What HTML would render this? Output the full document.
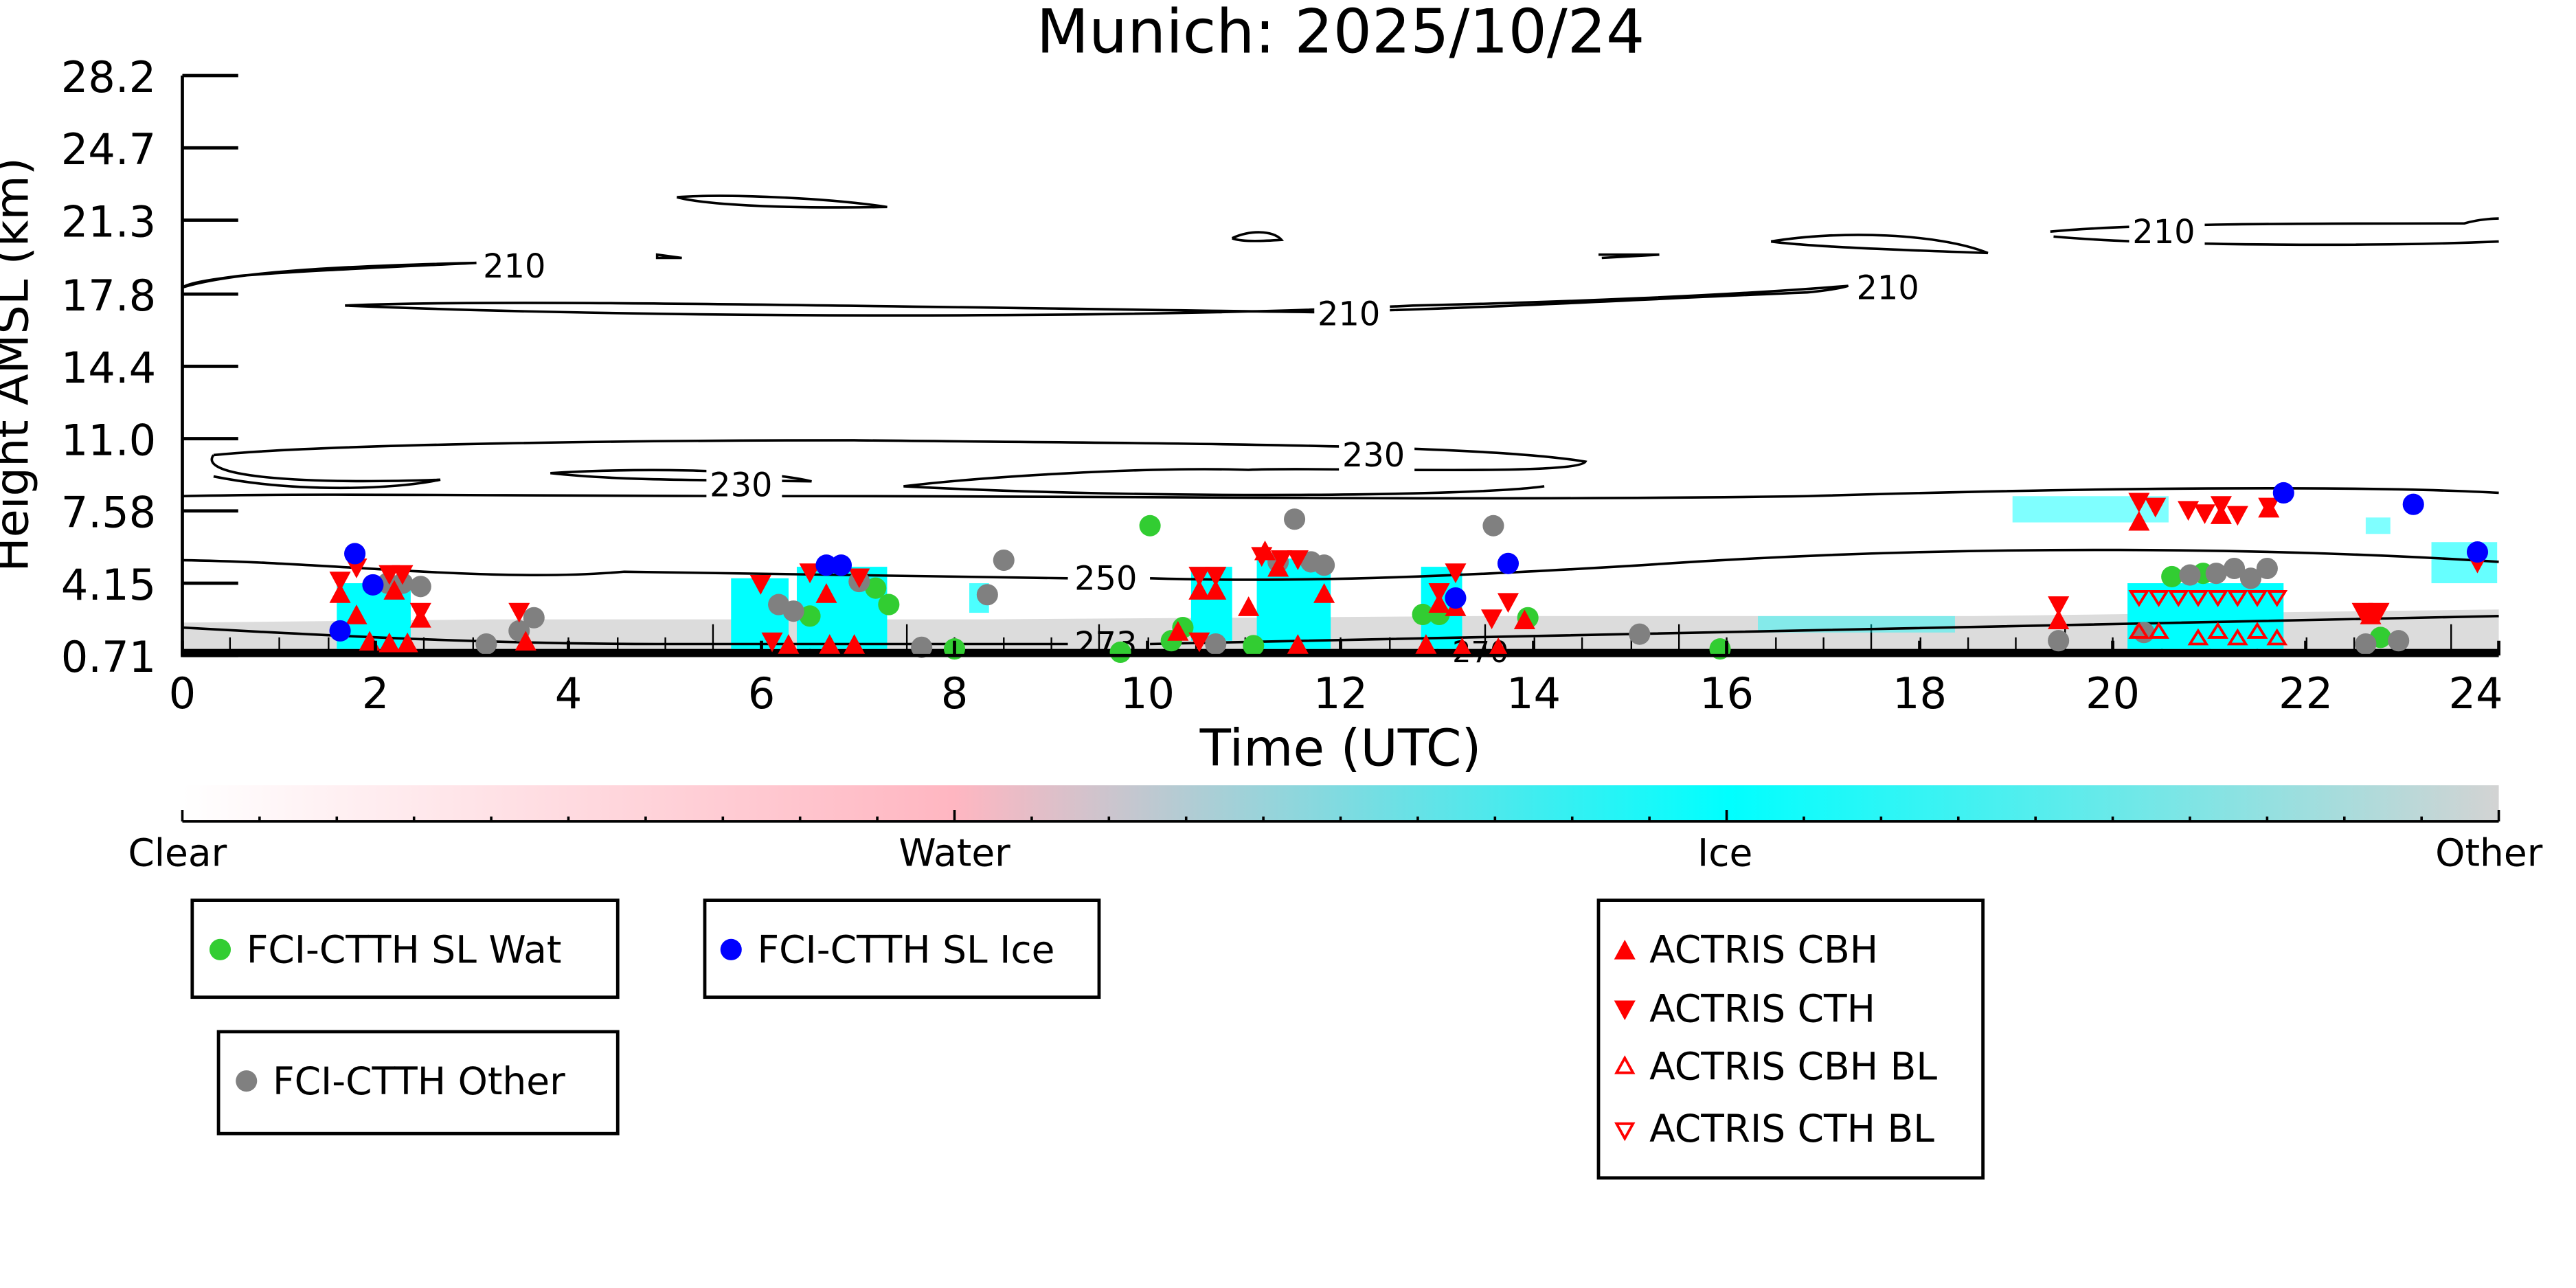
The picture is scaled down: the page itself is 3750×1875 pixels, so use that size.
<!DOCTYPE html>
<html><head><meta charset="utf-8"><style>
html,body{margin:0;padding:0;background:#fff;width:3750px;height:1875px;overflow:hidden}
svg{display:block}
text{font-family:"DejaVu Sans","Liberation Sans",sans-serif;fill:#000}
</style></head><body>
<svg width="3750" height="1875" viewBox="0 0 1568 784" preserveAspectRatio="none" xmlns="http://www.w3.org/2000/svg">
<defs>
<linearGradient id="cb" x1="0" x2="1" y1="0" y2="0">
<stop offset="0" stop-color="#ffffff"/>
<stop offset="0.333" stop-color="#ffb6c1"/>
<stop offset="0.667" stop-color="#00ffff"/>
<stop offset="1" stop-color="#d3d3d3"/>
</linearGradient>
<g id="up"><polygon points="0,-7 6.5,5 -6.5,5" fill="red"/></g>
<g id="dn"><polygon points="0,7 6.5,-5 -6.5,-5" fill="red"/></g>
</defs>
<text x="816" y="32" font-size="37" text-anchor="middle">Munich: 2025/10/24</text>

<path d="M111,379 L300,377 L600,377 L900,375 L1200,375 L1521,371 L1521,399 L111,399 Z" fill="#dcdcdc"/>
<rect x="111" y="395" width="1410" height="4" fill="#000"/>
<g stroke="#000" stroke-width="1">
<path d="M140,388V399M170,388V399M200,388V399M229,388V399M258,388V399M288,388V399M317,380V399M346,388V399M376,388V399M405,388V399M434,380V399M464,388V399M493,388V399M523,388V399M552,380V399M581,388V399M611,388V399M640,388V399M669,380V399M699,388V399M728,388V399M758,388V399M787,380V399M816,388V399M846,388V399M875,388V399M904,380V399M934,388V399M963,388V399M993,388V399M1022,380V399M1051,388V399M1081,388V399M1110,388V399M1139,380V399M1169,388V399M1198,388V399M1227,388V399M1257,380V399M1286,388V399M1316,388V399M1345,388V399M1374,380V399M1404,388V399M1433,388V399M1462,388V399M1492,380V399"/>
</g>
<g fill="#00ffff">
<rect x="205" y="355" width="45" height="40"/>
<rect x="445" y="352" width="35" height="43"/>
<rect x="485" y="345" width="55" height="50"/>
<rect x="590" y="355" width="12" height="18" opacity="0.7"/>
<rect x="725" y="345" width="25" height="45"/>
<rect x="765" y="340" width="45" height="55"/>
<rect x="865" y="345" width="25" height="50"/>
<rect x="1225" y="302" width="95" height="16" opacity="0.5"/>
<rect x="1295" y="355" width="95" height="40"/>
<rect x="1440" y="315" width="15" height="10" opacity="0.5"/>
<rect x="1480" y="330" width="40" height="25" opacity="0.6"/>
<rect x="1070" y="375" width="120" height="10" opacity="0.4"/>
</g>

<g fill="none" stroke="#000" stroke-width="1.5">
<path d="M111,341 C200,342 300,355 380,348 L650,352 M700,352 C800,355 900,350 1000,344 C1200,330 1400,334 1521,342"/>
<path d="M111,382 C200,387 300,392 400,392 L650,392 M700,392 C900,388 1200,380 1521,375"/>
<path d="M111,302 C200,300 300,302 500,302 C700,302 900,305 1100,302 C1300,296 1450,296 1521,300"/>
<path d="M130,277 C200,270 400,268 520,268 C700,270 900,270 965,281 C960,290 800,284 760,286 C700,284 600,290 550,296 C700,304 900,302 940,296 M130,277 C120,290 180,295 268,292 C240,298 180,300 130,290"/>
<path d="M335,288 C380,285 460,285 494,293 C440,292 380,293 335,288"/>
<path d="M210,186 C300,182 500,186 800,190 C900,188 1000,182 1100,178 C1120,176 1125,174 1125,174 C1050,180 950,184 860,186 C700,194 400,194 210,186"/>
<path d="M111,175 C140,166 200,162 290,160 C250,162 180,165 145,168 C130,170 115,172 111,175"/>
<path d="M412,120 C440,118 500,120 540,126 C480,127 430,125 412,120"/>
<path d="M400,155 L415,157 L400,157Z"/>
<path d="M750,145 C760,140 775,140 780,146 C765,147 755,147 750,145"/>
<path d="M973,155 L1010,155 L975,157"/>
<path d="M1078,147 C1120,140 1180,142 1210,154 C1150,152 1100,150 1078,147"/>
<path d="M1248,141 C1300,136 1400,136 1500,136 C1510,133 1521,133 1521,133 M1250,144 C1320,150 1450,150 1521,147"/>
</g>
<g font-size="20">
<rect x="292" y="150" width="46" height="22" fill="#fff"/><text x="294" y="169">210</text>
<rect x="800" y="180" width="46" height="22" fill="#fff"/><text x="802" y="198">210</text>
<rect x="1128" y="164" width="46" height="22" fill="#fff"/><text x="1130" y="182">210</text>
<rect x="1296" y="130" width="46" height="22" fill="#fff"/><text x="1298" y="148">210</text>
<rect x="815" y="266" width="46" height="22" fill="#fff"/><text x="817" y="284">230</text>
<rect x="430" y="284" width="46" height="22" fill="#fff"/><text x="432" y="302">230</text>
<rect x="652" y="341" width="46" height="22" fill="#fff"/><text x="654" y="359">250</text>
<text x="654" y="399">273</text>
<text x="884" y="403" font-size="18">270</text>
</g>

<g fill="#32cd32">
<circle cx="700" cy="320" r="6.5"/><circle cx="493" cy="375" r="6.5"/><circle cx="533" cy="358" r="6.5"/><circle cx="541" cy="368" r="6.5"/><circle cx="581" cy="395" r="6.5"/><circle cx="720" cy="382" r="6.5"/><circle cx="713" cy="390" r="6.5"/><circle cx="866" cy="374" r="6.5"/><circle cx="876" cy="374" r="6.5"/><circle cx="930" cy="376" r="6.5"/><circle cx="1047" cy="395" r="6.5"/><circle cx="1322" cy="351" r="6.5"/><circle cx="1341" cy="349" r="6.5"/><circle cx="1449" cy="388" r="6.5"/><circle cx="763" cy="393" r="6.5"/><circle cx="682" cy="397" r="6.5"/>
</g>
<g fill="#808080">
<circle cx="788" cy="316" r="6.5"/><circle cx="909" cy="320" r="6.5"/><circle cx="611" cy="341" r="6.5"/><circle cx="601" cy="362" r="6.5"/><circle cx="523" cy="354" r="6.5"/><circle cx="474" cy="368" r="6.5"/><circle cx="483" cy="372" r="6.5"/><circle cx="236" cy="355" r="6.5"/><circle cx="245" cy="355" r="6.5"/><circle cx="256" cy="357" r="6.5"/><circle cx="325" cy="376" r="6.5"/><circle cx="316" cy="384" r="6.5"/><circle cx="296" cy="392" r="6.5"/><circle cx="778" cy="342" r="6.5"/><circle cx="798" cy="342" r="6.5"/><circle cx="806" cy="344" r="6.5"/><circle cx="998" cy="386" r="6.5"/><circle cx="1333" cy="350" r="6.5"/><circle cx="1349" cy="349" r="6.5"/><circle cx="1360" cy="346" r="6.5"/><circle cx="1370" cy="352" r="6.5"/><circle cx="1380" cy="346" r="6.5"/><circle cx="1305" cy="385" r="6.5"/><circle cx="1440" cy="392" r="6.5"/><circle cx="1460" cy="390" r="6.5"/><circle cx="561" cy="394" r="6.5"/><circle cx="740" cy="392" r="6.5"/><circle cx="1253" cy="390" r="6.5"/>
</g>
<g>
<use href="#dn" x="207" y="353"/><use href="#up" x="207" y="362"/><use href="#dn" x="217" y="345"/><use href="#up" x="217" y="375"/><use href="#dn" x="237" y="349"/><use href="#dn" x="245" y="349"/><use href="#up" x="240" y="360"/><use href="#up" x="256" y="377"/><use href="#dn" x="256" y="372"/><use href="#up" x="225" y="391"/><use href="#up" x="237" y="392"/><use href="#up" x="248" y="392"/><use href="#dn" x="316" y="372"/><use href="#up" x="320" y="391"/>
<use href="#dn" x="463" y="355"/><use href="#dn" x="493" y="348"/><use href="#dn" x="523" y="351"/><use href="#up" x="503" y="362"/><use href="#up" x="480" y="393"/><use href="#up" x="505" y="393"/><use href="#up" x="520" y="393"/><use href="#dn" x="470" y="390"/>
<use href="#dn" x="730" y="350"/><use href="#dn" x="740" y="350"/><use href="#up" x="730" y="360"/><use href="#up" x="740" y="360"/><use href="#dn" x="768" y="338"/><use href="#dn" x="780" y="340"/><use href="#dn" x="790" y="340"/><use href="#up" x="770" y="336"/><use href="#up" x="778" y="346"/><use href="#up" x="806" y="362"/><use href="#up" x="760" y="370"/><use href="#up" x="717" y="385"/><use href="#dn" x="730" y="390"/><use href="#up" x="790" y="393"/>
<use href="#dn" x="876" y="360"/><use href="#up" x="876" y="368"/><use href="#dn" x="886" y="348"/><use href="#up" x="886" y="370"/><use href="#dn" x="918" y="366"/><use href="#dn" x="908" y="376"/><use href="#up" x="928" y="378"/><use href="#up" x="868" y="393"/><use href="#up" x="890" y="395"/><use href="#up" x="912" y="395"/>
<use href="#dn" x="1302" y="305"/><use href="#up" x="1302" y="318"/><use href="#dn" x="1312" y="308"/><use href="#dn" x="1332" y="310"/><use href="#dn" x="1342" y="312"/><use href="#dn" x="1352" y="307"/><use href="#up" x="1352" y="314"/><use href="#dn" x="1362" y="313"/><use href="#dn" x="1381" y="308"/><use href="#up" x="1381" y="310"/>
<use href="#dn" x="1253" y="368"/><use href="#up" x="1253" y="378"/><use href="#dn" x="1438" y="372"/><use href="#dn" x="1448" y="372"/><use href="#up" x="1443" y="375"/><use href="#dn" x="1508" y="342"/>
</g>
<g fill="none" stroke="red" stroke-width="1.6">
<path d="M1297,360l5,8l5,-8zM1309,360l5,8l5,-8zM1321,360l5,8l5,-8zM1333,360l5,8l5,-8zM1345,360l5,8l5,-8zM1357,360l5,8l5,-8zM1369,360l5,8l5,-8zM1381,360l5,8l5,-8z"/>
<path d="M1297,388l5,-8l5,8zM1309,388l5,-8l5,8zM1333,392l5,-8l5,8zM1345,388l5,-8l5,8zM1357,392l5,-8l5,8zM1369,388l5,-8l5,8zM1381,392l5,-8l5,8z"/>
</g>
<g fill="#0000ff">
<circle cx="216" cy="337" r="6.5"/><circle cx="207" cy="384" r="6.5"/><circle cx="227" cy="356" r="6.5"/><circle cx="503" cy="344" r="6.5"/><circle cx="512" cy="344" r="6.5"/><circle cx="886" cy="364" r="6.5"/><circle cx="918" cy="343" r="6.5"/><circle cx="1390" cy="300" r="6.5"/><circle cx="1469" cy="307" r="6.5"/><circle cx="1508" cy="336" r="6.5"/>
</g>

<g stroke="#000" stroke-width="2" fill="none">
<path d="M111,46V399H1521"/>
<path d="M111,46H145M111,90H145M111,134H145M111,179H145M111,223H145M111,267H145M111,311H145M111,355H145M111,399H145"/>
<path d="M111,399V390M228.5,399V390M346,399V390M463.5,399V390M581,399V390M698.5,399V390M816,399V390M933.5,399V390M1051,399V390M1168.5,399V390M1286,399V390M1403.5,399V390M1521,399V390"/>
</g>
<g font-size="26" text-anchor="end">
<text x="95" y="56">28.2</text><text x="95" y="100">24.7</text><text x="95" y="144">21.3</text><text x="95" y="189">17.8</text><text x="95" y="233">14.4</text><text x="95" y="277">11.0</text><text x="95" y="321">7.58</text><text x="95" y="365">4.15</text><text x="95" y="409">0.71</text>
</g>
<g font-size="26" text-anchor="middle">
<text x="111" y="431">0</text><text x="228.5" y="431">2</text><text x="346" y="431">4</text><text x="463.5" y="431">6</text><text x="581" y="431">8</text><text x="698.5" y="431">10</text><text x="816" y="431">12</text><text x="933.5" y="431">14</text><text x="1051" y="431">16</text><text x="1168.5" y="431">18</text><text x="1286" y="431">20</text><text x="1403.5" y="431">22</text><text x="1507" y="431">24</text>
</g>
<text x="816" y="466" font-size="31" text-anchor="middle">Time (UTC)</text>
<text transform="translate(17,222) rotate(-90)" font-size="28" text-anchor="middle">Height AMSL (km)</text>

<rect x="111" y="478" width="1410" height="22" fill="url(#cb)"/>
<g stroke="#000" stroke-width="1.5">
<path d="M111,500H1521M111,493V500M1521,493V500"/>
<path d="M158,497V500M205,497V500M252,497V500M299,497V500M346,497V500M393,497V500M440,497V500M487,497V500M534,497V500M581,493V500M628,497V500M675,497V500M722,497V500M769,497V500M816,497V500M863,497V500M910,497V500M957,497V500M1004,497V500M1051,493V500M1098,497V500M1145,497V500M1192,497V500M1239,497V500M1286,497V500M1333,497V500M1380,497V500M1427,497V500M1474,497V500"/>
</g>
<g font-size="23" text-anchor="middle">
<text x="108" y="527">Clear</text><text x="581" y="527">Water</text><text x="1050" y="527">Ice</text><text x="1515" y="527">Other</text>
</g>

<g stroke="#000" stroke-width="2" fill="#fff">
<rect x="117" y="548" width="259" height="59"/>
<rect x="133" y="628" width="243" height="62"/>
<rect x="429" y="548" width="240" height="59"/>
<rect x="973" y="548" width="234" height="169"/>
</g>
<g font-size="23">
<circle cx="134" cy="578" r="6.5" fill="#32cd32"/><text x="150" y="586">FCI-CTTH SL Wat</text>
<circle cx="150" cy="658" r="6.5" fill="#808080"/><text x="166" y="666">FCI-CTTH Other</text>
<circle cx="445" cy="578" r="6.5" fill="#0000ff"/><text x="461" y="586">FCI-CTTH SL Ice</text>
<use href="#up" x="989" y="579"/><text x="1004" y="586">ACTRIS CBH</text>
<use href="#dn" x="989" y="614"/><text x="1004" y="622">ACTRIS CTH</text>
<path d="M984,653l5,-9l5,9z" fill="none" stroke="red" stroke-width="1.6"/><text x="1004" y="657">ACTRIS CBH BL</text>
<path d="M984,684l5,9l5,-9z" fill="none" stroke="red" stroke-width="1.6"/><text x="1004" y="695">ACTRIS CTH BL</text>
</g>
</svg>
</body></html>
